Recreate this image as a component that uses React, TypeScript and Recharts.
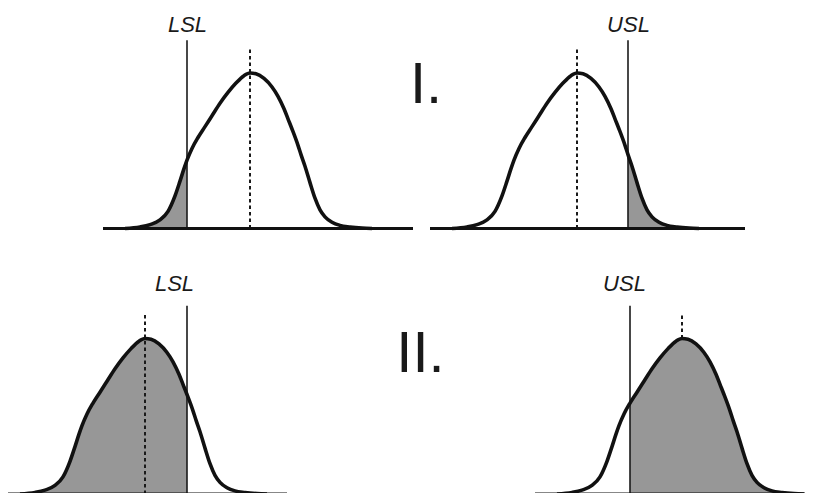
import React from 'react';
import { ComposedChart, Area, Line, XAxis, YAxis, ReferenceLine } from 'recharts';

// Bell-shaped process distribution: offset from the process mean and relative density (% of peak)
const profileOffset = [-12.5, -11, -10, -9, -8.2, -7.5, -7, -6.6, -6.3, -5.8, -5.2, -4.5, -3.8, -3, -2.2, -1.4, -0.6, 0, 0.6, 1.4, 2.2, 2.8, 3.4, 3.8, 4.2, 4.8, 5.1, 5.5, 6, 6.5, 7, 7.5, 8.2, 9, 10, 11.2, 12.2];
const profileDensity = [0, 1, 2.5, 5.5, 11, 21, 30.5, 38.5, 44, 51.5, 58.5, 65.5, 72.5, 80.5, 87.5, 93.5, 98.3, 100, 99.5, 96.5, 91, 85, 77, 70.5, 64, 53.5, 47.5, 40, 29.5, 19.5, 12, 7.5, 4, 2, 1, 0.3, 0];

// Four cases: process mean, specification limit and which side of the limit is out of spec
const panelMean = [25.0, 57.9, 14.5, 68.2];
const panelLimit = [18.7, 63.0, 18.7, 63.0];
const panelLimitName = ['LSL', 'USL', 'LSL', 'USL'];
const caseLabels = ['I.', 'II.'];

const LIMIT_TOP = 121;
const MEAN_TOP = 116;

type Layout = {
  left: number;
  top: number;
  width: number;
  height: number;
  marginBottom: number;
  xDomain: [number, number];
  yTop: number;
  labelDx: number;
  labelGap: number;
  meanFrom: number;
};

const layouts: Layout[] = [
  { left: 103, top: 0, width: 310, height: 240, marginBottom: 11.5, xDomain: [10.3, 41.3], yTop: 146.95, labelDx: 0.5, labelGap: 8.3, meanFrom: 0 },
  { left: 430, top: 0, width: 315, height: 240, marginBottom: 11.5, xDomain: [43.2, 74.7], yTop: 146.95, labelDx: 0.5, labelGap: 8.3, meanFrom: 0 },
  { left: 8, top: 260, width: 279, height: 250, marginBottom: 16, xDomain: [0.8, 28.7], yTop: 150.5, labelDx: -12.5, labelGap: 15.3, meanFrom: 0 },
  { left: 535, top: 260, width: 270, height: 250, marginBottom: 16, xDomain: [53.5, 80.5], yTop: 150.5, labelDx: -5.5, labelGap: 15.3, meanFrom: 100 },
];

const FONT = "'Liberation Sans', Arial, Helvetica, sans-serif";

function buildRows(i: number) {
  const mean = panelMean[i];
  const limit = panelLimit[i];
  const lower = panelLimitName[i] === 'LSL';
  return profileOffset.map((off, k) => {
    const x = Math.round((mean + off) * 1000) / 1000;
    const d = profileDensity[k];
    const outside = lower ? x <= limit + 1e-6 : x >= limit - 1e-6;
    return { x, density: d, tail: outside ? d : null };
  });
}

const limitLabel = (text: string, dx: number, gap: number) => (props: any) => {
  const vb = props && props.viewBox ? props.viewBox : { x: 0, y: 0 };
  return (
    <text
      x={vb.x + dx}
      y={vb.y - gap}
      textAnchor="middle"
      fontFamily={FONT}
      fontStyle="italic"
      fontSize={22}
      fill="#1a1a1a"
    >
      {text}
    </text>
  );
};

function Panel({ i }: { i: number }) {
  const L = layouts[i];
  const rows = buildRows(i);
  const mean = panelMean[i];
  const limit = panelLimit[i];
  return (
    <div style={{ position: 'absolute', left: L.left, top: L.top }}>
      <ComposedChart
        width={L.width}
        height={L.height}
        data={rows}
        margin={{ top: 0, right: 0, bottom: L.marginBottom, left: 0 }}
      >
        <XAxis type="number" dataKey="x" domain={L.xDomain} hide />
        <YAxis type="number" domain={[0, L.yTop]} hide />
        <Area
          type="monotone"
          dataKey="tail"
          stroke="none"
          fill="#979797"
          fillOpacity={1}
          isAnimationActive={false}
          connectNulls={false}
        />
        <ReferenceLine
          segment={[{ x: mean, y: L.meanFrom }, { x: mean, y: MEAN_TOP }]}
          stroke="#1a1a1a"
          strokeWidth={2}
          strokeDasharray="3.5 3"
        />
        <ReferenceLine
          segment={[{ x: limit, y: 0 }, { x: limit, y: LIMIT_TOP }]}
          stroke="#1a1a1a"
          strokeWidth={1.6}
          label={limitLabel(panelLimitName[i], L.labelDx, L.labelGap)}
        />
        <Line
          type="monotone"
          dataKey="density"
          stroke="#111"
          strokeWidth={3.6}
          dot={false}
          activeDot={false}
          isAnimationActive={false}
        />
        <ReferenceLine y={0} stroke="#111" strokeWidth={3} />
      </ComposedChart>
    </div>
  );
}

export default function App() {
  return (
    <div
      style={{
        position: 'absolute',
        left: 0,
        top: 0,
        width: 838,
        height: 493,
        overflow: 'hidden',
        background: '#ffffff',
      }}
    >
      {[0, 1, 2, 3].map((i) => (
        <Panel key={i} i={i} />
      ))}
      <svg
        width={838}
        height={493}
        style={{ position: 'absolute', left: 0, top: 0, pointerEvents: 'none' }}
      >
        <text x={410} y={103} fontFamily={FONT} fontSize={58} fill="#1a1a1a">
          {caseLabels[0]}
        </text>
        <text x={396.3} y={371.7} fontFamily={FONT} fontSize={58} fill="#1a1a1a">
          {caseLabels[1]}
        </text>
      </svg>
    </div>
  );
}
